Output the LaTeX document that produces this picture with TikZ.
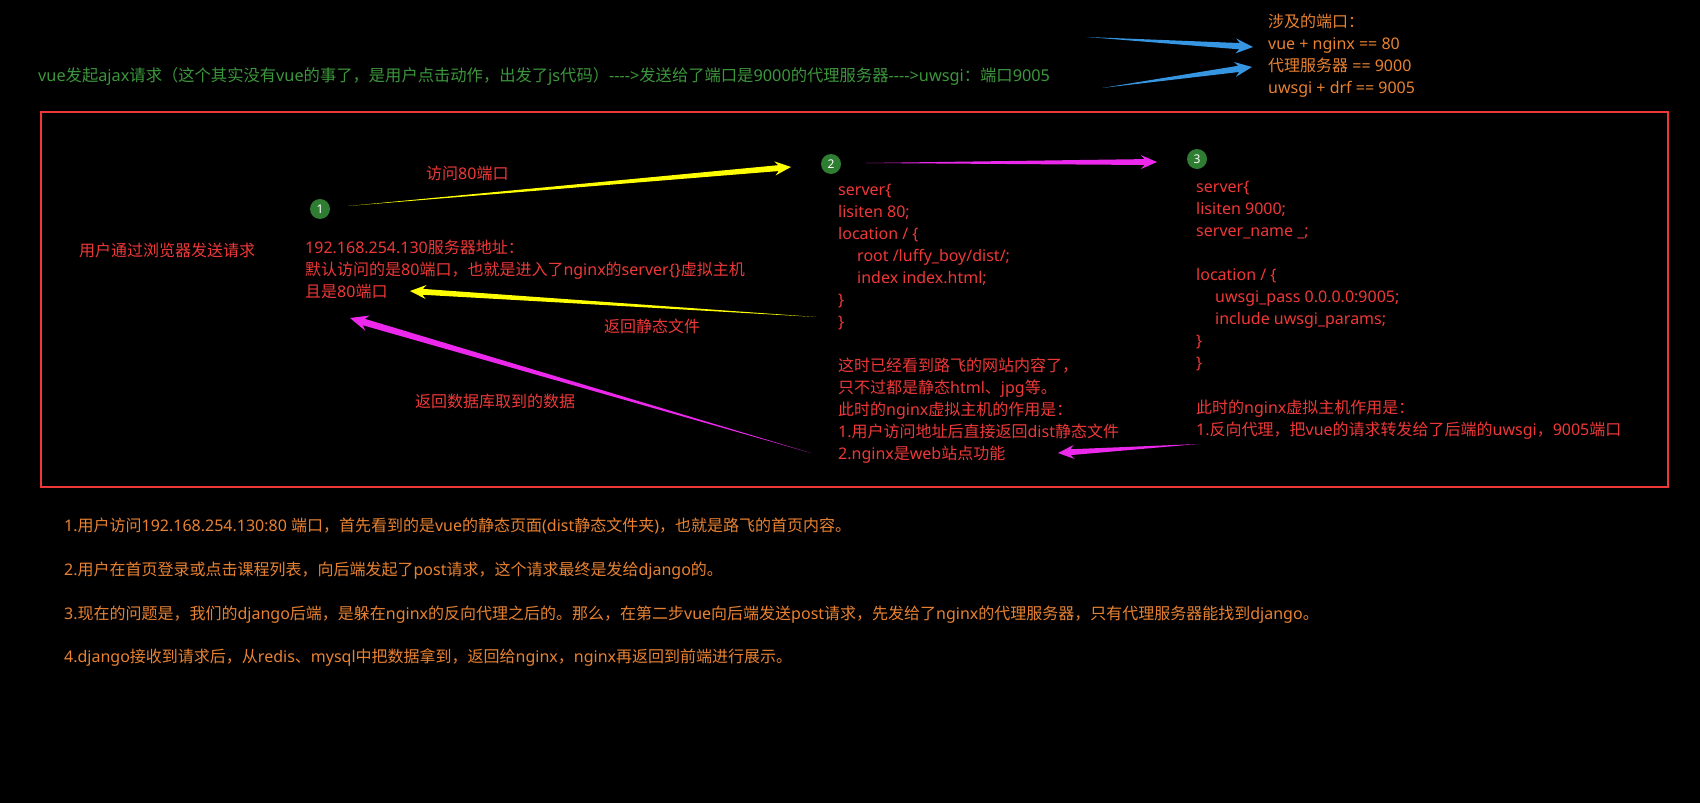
\documentclass[tikz,border=0pt]{standalone}
\usepackage{fontspec}
\setmainfont{Noto Sans}
\newfontfamily\latinfont{Noto Sans}
\newfontfamily\cjkfont{Noto Sans CJK SC}
% switch to the CJK face for Chinese characters and full-width punctuation
\XeTeXinterchartokenstate=1
\newXeTeXintercharclass\cjkclass
\newcount\cjkcode
\newcommand\markcjk[2]{\cjkcode=#1\relax
  \loop\XeTeXcharclass\cjkcode=\cjkclass\relax
  \advance\cjkcode by 1\relax\ifnum\cjkcode<#2\relax\repeat}
\markcjk{"3000}{"3040}
\markcjk{"4E00}{"A000}
\markcjk{"FF00}{"FFF0}
\XeTeXinterchartoks 0 \cjkclass = {\cjkfont}
\XeTeXinterchartoks 4095 \cjkclass = {\cjkfont}
\XeTeXinterchartoks \cjkclass 0 = {\latinfont}
\XeTeXinterchartoks \cjkclass 4095 = {\latinfont}
\usepackage{tikz}
\usetikzlibrary{calc}
\definecolor{notered}{RGB}{238,56,56}
\definecolor{noteorange}{RGB}{232,130,50}
\definecolor{notegreen}{RGB}{60,150,60}
\definecolor{stepgreen}{RGB}{46,125,50}
\definecolor{arrowyellow}{RGB}{255,255,0}
\definecolor{arrowmagenta}{RGB}{236,40,236}
\definecolor{arrowblue}{RGB}{55,150,225}

% tapered arrow: colour, tail, tip, head half width
\newcommand{\taperarrow}[4]{%
  \coordinate (neck) at ($(#3)!1.8*#4!(#2)$);
  \coordinate (barb) at ($(#3)!2.3*#4!(#2)$);
  \fill[#1] (#2) -- ($(neck)!0.42*#4!90:(#3)$) -- ($(barb)!#4!90:(#3)$) -- (#3)
    -- ($(barb)!#4!-90:(#3)$) -- ($(neck)!0.42*#4!-90:(#3)$) -- cycle;
}

\begin{document}
\begin{tikzpicture}[
    x=1pt, y=-1pt,
    txt/.style={anchor=north west,inner sep=0pt,align=left,font=\fontsize{16}{22}\selectfont,execute at begin node=\strut},
    stepdot/.style={circle,fill=stepgreen,text=white,inner sep=0pt,minimum size=20pt,font=\fontsize{12}{12}\selectfont}
]
\fill[black] (0,0) rectangle (1700,803);
\useasboundingbox (0,0) rectangle (1700,803);

% top notes
\node[txt,text=notegreen,font=\fontsize{16.3}{22}\selectfont] (ajax) at (38,66) {vue发起ajax请求（这个其实没有vue的事了，是用户点击动作，出发了js代码）{-}{-}{-}{-}>发送给了端口是9000的代理服务器{-}{-}{-}{-}>uwsgi：端口9005};
\node[txt,text=noteorange] (ports) at (1268,14) {涉及的端口：\\vue + nginx == 80\\代理服务器 == 9000\\uwsgi + drf == 9005};

\coordinate (b1t) at (1087,37); \coordinate (b1h) at (1253,47);
\coordinate (b2t) at (1102,88); \coordinate (b2h) at (1252,67);
\taperarrow{arrowblue}{b1t}{b1h}{7.5pt}
\taperarrow{arrowblue}{b2t}{b2h}{7.5pt}

% frame
\draw[notered,line width=1.3pt] (41,112) rectangle (1668,487);

\node[stepdot] (s1) at (320,209) {1};
\node[stepdot] (s2) at (831,164) {2};
\node[stepdot] (s3) at (1197,159) {3};

\node[txt,text=notered] (user) at (79,241) {用户通过浏览器发送请求};
\node[txt,text=notered] (visit) at (426,164) {访问80端口};
\node[txt,text=notered] (addr) at (305,240) {192.168.254.130服务器地址：\\默认访问的是80端口，也就是进入了nginx的server\{\}虚拟主机\\且是80端口};
\node[txt,text=notered] (static) at (604,317) {返回静态文件};
\node[txt,text=notered] (dbdata) at (415,392) {返回数据库取到的数据};

\node[txt,text=notered] (web) at (838,184) {server\{\\lisiten 80;\\location / \{\\\hspace{19pt}root /luffy\_boy/dist/;\\\hspace{19pt}index index.html;\\\}\\\}\\[22pt]这时已经看到路飞的网站内容了，\\只不过都是静态html、jpg等。\\此时的nginx虚拟主机的作用是：\\1.用户访问地址后直接返回dist静态文件\\2.nginx是web站点功能};

\node[txt,text=notered] (proxy) at (1196,181) {server\{\\lisiten 9000;\\server\_name \_;\\[22.3pt]location / \{\\\hspace{19pt}uwsgi\_pass 0.0.0.0:9005;\\\hspace{19pt}include uwsgi\_params;\\\}\\\}\\[22.3pt]此时的nginx虚拟主机作用是：\\1.反向代理，把vue的请求转发给了后端的uwsgi，9005端口};

% arrows
\coordinate (y1t) at (348,206); \coordinate (y1h) at (791,167);
\coordinate (m1t) at (866,163); \coordinate (m1h) at (1157,162);
\coordinate (y2t) at (816,317); \coordinate (y2h) at (410,291);
\coordinate (m2t) at (811,453); \coordinate (m2h) at (350,318);
\coordinate (m3t) at (1198,444); \coordinate (m3h) at (1058,453);
\taperarrow{arrowyellow}{y1t}{y1h}{7pt}
\taperarrow{arrowmagenta}{m1t}{m1h}{7pt}
\taperarrow{arrowyellow}{y2t}{y2h}{7pt}
\taperarrow{arrowmagenta}{m2t}{m2h}{8pt}
\taperarrow{arrowmagenta}{m3t}{m3h}{7pt}

% summary
\node[txt,text=noteorange] (summary) at (64,518) {1.用户访问192.168.254.130:80 端口，首先看到的是vue的静态页面(dist静态文件夹)，也就是路飞的首页内容。\\[21.7pt]2.用户在首页登录或点击课程列表，向后端发起了post请求，这个请求最终是发给django的。\\[21.7pt]3.现在的问题是，我们的django后端，是躲在nginx的反向代理之后的。那么，在第二步vue向后端发送post请求，先发给了nginx的代理服务器，只有代理服务器能找到django。\\[21.7pt]4.django接收到请求后，从redis、mysql中把数据拿到，返回给nginx，nginx再返回到前端进行展示。};
\end{tikzpicture}
\end{document}
